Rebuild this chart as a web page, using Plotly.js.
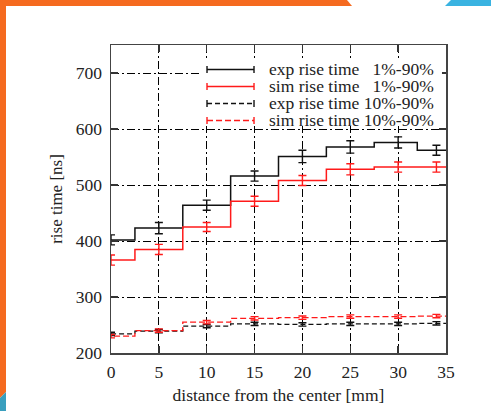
<!DOCTYPE html>
<html>
<head>
<meta charset="utf-8">
<script src="https://cdn.plot.ly/plotly-3.0.1.min.js"></script>
<style>
html,body{margin:0;padding:0;background:#fff;}
#chart{width:491px;height:411px;position:absolute;left:0;top:0;}
.deco{position:absolute;z-index:5;}
</style>
</head>
<body>
<div id="chart"></div>
<div class="deco" style="left:0;top:0;width:352px;height:6px;background:#F56A1F;clip-path:polygon(0 0,347px 0,352px 6px,0 6px);"></div>
<div class="deco" style="left:445px;top:0;width:46px;height:6px;background:#3AB3E1;clip-path:polygon(6px 0,46px 0,46px 6px,0 6px);"></div>
<div class="deco" style="left:0;top:0;width:6px;height:398px;background:#F56A1F;clip-path:polygon(0 0,6px 0,6px 392px,0 398px);"></div>
<div class="deco" style="left:0;top:392px;width:6px;height:19px;background:#3A9FBE;clip-path:polygon(6px 0,6px 19px,0 19px,0 6px);"></div>
<script>
// distance from the center [mm]
const xPos = [0, 5, 10, 15, 20, 25, 30, 34];

// exp rise time 1%-90%
const exp1 = [402, 423, 464, 516, 551, 568, 576, 562];
const exp1Err = [9, 10, 9, 9, 11, 11, 10, 9];
// sim rise time 1%-90%
const sim1 = [366, 385, 425, 471, 508, 528, 532, 532];
const sim1Err = [9, 9, 8, 9, 9, 10, 9, 9];
// exp rise time 10%-90%
const exp10 = [234, 239, 248, 252, 251, 252, 252, 253];
const exp10Err = [3, 3, 3, 3, 3, 3, 3, 3];
// sim rise time 10%-90%
const sim10 = [230, 240, 255, 262, 263, 265, 265, 266];
const sim10Err = [3, 3, 3, 3, 3, 3, 3, 3];

const names = ['exp rise time \u00A0\u00A01%-90%', 'sim rise time \u00A0\u00A01%-90%', 'exp rise time 10%-90%', 'sim rise time 10%-90%'];
const xTicks = [0, 5, 10, 15, 20, 25, 30, 35];
const yTicks = [200, 300, 400, 500, 600, 700];

// histogram-step extension (first/last half-steps)
function extX(x){
  const n = x.length;
  return [x[0] - (x[1]-x[0])/2].concat(x, [x[n-1] + (x[n-1]-x[n-2])/2]);
}
function extY(y){ return [y[0]].concat(y, [y[y.length-1]]); }

const series = [
  {y: exp1, e: exp1Err, color: '#111111', dash: 'solid', w: 1.5},
  {y: sim1, e: sim1Err, color: '#ff1a1a', dash: 'solid', w: 1.5},
  {y: exp10, e: exp10Err, color: '#111111', dash: '5px,3px', w: 1.3},
  {y: sim10, e: sim10Err, color: '#ff1a1a', dash: '6px,3px', w: 1.3}
];

const serif = 'Liberation Serif, Times New Roman, serif';
const traces = [];
series.forEach((s, i) => {
  traces.push({
    x: extX(xPos), y: extY(s.y), type: 'scatter', mode: 'lines',
    line: {shape: 'hvh', color: s.color, width: s.w, dash: s.dash},
    name: names[i], showlegend: false, hoverinfo: 'skip'
  });
});
series.forEach((s, i) => {
  traces.push({
    x: xPos, y: s.y, type: 'scatter', mode: 'markers',
    marker: {size: 1, opacity: 0, color: s.color},
    error_y: {type: 'data', array: s.e, visible: true, color: s.color, thickness: 1.4, width: 4},
    showlegend: false, hoverinfo: 'skip'
  });
});

// key (gnuplot-style legend) drawn with shapes + annotations
const keyRows = [0.9205, 0.8653, 0.8101, 0.7549];
const keyX0 = 0.2866, keyX1 = 0.4269, keyTextX = 0.466, capH = 0.0114;
const shapes = [{
  type: 'rect', xref: 'paper', yref: 'paper', x0: 0.266, x1: 0.988, y0: 0.737, y1: 0.948,
  fillcolor: '#ffffff', line: {width: 0}, layer: 'above'
}];
const annotations = [];
series.forEach((s, i) => {
  const yy = keyRows[i];
  shapes.push({type: 'line', xref: 'paper', yref: 'paper', x0: keyX0, x1: keyX1, y0: yy, y1: yy,
    line: {color: s.color, width: s.w, dash: s.dash}, layer: 'above'});
  [keyX0, keyX1].forEach(xx => shapes.push({type: 'line', xref: 'paper', yref: 'paper', x0: xx, x1: xx,
    y0: yy - capH, y1: yy + capH, line: {color: s.color, width: 1.4}, layer: 'above'}));
  annotations.push({xref: 'paper', yref: 'paper', x: keyTextX, y: yy, xanchor: 'left', yanchor: 'middle',
    text: names[i], showarrow: false, font: {family: serif, size: 17.5, color: '#222'}});
});

const layout = {
  width: 491, height: 411,
  margin: {l: 111, r: 45, t: 45, b: 58},
  paper_bgcolor: 'rgba(0,0,0,0)',
  plot_bgcolor: '#ffffff',
  font: {family: serif, size: 17, color: '#222'},
  showlegend: false,
  shapes: shapes,
  annotations: annotations,
  xaxis: {
    range: [0, 35], tickvals: xTicks, ticktext: xTicks.map(String),
    showgrid: true, gridcolor: '#000', gridwidth: 1, griddash: '8px,3px,2px,3px',
    zeroline: false, showline: true, linecolor: '#444', linewidth: 1.5, mirror: 'ticks',
    ticks: 'inside', ticklen: 7, tickcolor: '#333', tickwidth: 1.3, ticklabelstandoff: 2,
    tickfont: {family: serif, size: 17.5, color: '#222'},
    title: {text: 'distance from the center [mm]', font: {family: serif, size: 17.5, color: '#222'}, standoff: 8}
  },
  yaxis: {
    range: [200, 750], tickvals: yTicks, ticktext: yTicks.map(String),
    showgrid: true, gridcolor: '#000', gridwidth: 1, griddash: '8px,3px,2px,3px',
    zeroline: false, showline: true, linecolor: '#444', linewidth: 1.5, mirror: 'ticks',
    ticks: 'inside', ticklen: 7, tickcolor: '#333', tickwidth: 1.3, ticklabelstandoff: 4,
    tickfont: {family: serif, size: 17.5, color: '#222'},
    title: {text: 'rise time [ns]', font: {family: serif, size: 17, color: '#222'}, standoff: 9}
  }
};

Plotly.newPlot('chart', traces, layout, {staticPlot: true, displayModeBar: false});
</script>
</body>
</html>
